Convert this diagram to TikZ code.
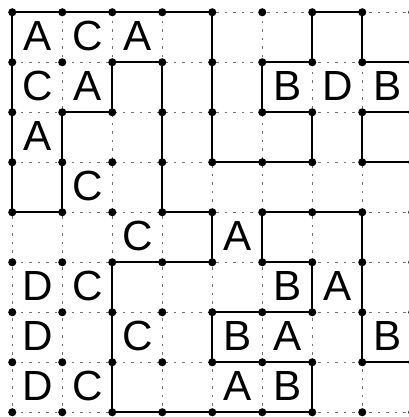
\documentclass[tikz,border=0pt]{standalone}
\usepackage{fontspec}
\setmainfont{Liberation Sans}

\begin{document}
\begin{tikzpicture}[x=1cm, y=-1cm, line join=round, line cap=round, font=\fontsize{24}{28}\selectfont]
	\useasboundingbox (-0.245, -0.245) rectangle (7.935, 8.095);
	\foreach \k in {0,...,8} {
		\draw[black!55, line width=0.5pt, line cap=butt, dash pattern=on 0.05cm off 0.12cm] (0, \k) -- (8, \k);
		\draw[black!55, line width=0.5pt, line cap=butt, dash pattern=on 0.05cm off 0.12cm] (\k, 0) -- (\k, 8);
	}
	\draw[line width=1.4pt] (0, 0) -- (4, 0) -- (4, 3) -- (6, 3) -- (6, 2) -- (5, 2) -- (5, 1) -- (6, 1) -- (6, 0) -- (7, 0) -- (7, 1) -- (8, 1);
	\draw[line width=1.4pt] (0, 0) -- (0, 4) -- (1, 4) -- (1, 2) -- (2, 2) -- (2, 1) -- (3, 1) -- (3, 4) -- (4, 4) -- (4, 5) -- (2, 5) -- (2, 8) -- (6, 8) -- (6, 7) -- (4, 7) -- (4, 6) -- (6, 6) -- (6, 5) -- (5, 5) -- (5, 4) -- (7, 4) -- (7, 7) -- (8, 7);
	\draw[line width=1.4pt] (8, 2) -- (7, 2) -- (7, 3) -- (8, 3);
	\foreach \x in {0,...,8}
		\foreach \y in {0,...,8}
			\fill[black] (\x, \y) circle (2.3pt);
	\foreach \x/\y/\l in {0/0/A, 1/0/C, 2/0/A, 0/1/C, 1/1/A, 5/1/B, 6/1/D, 7/1/B, 0/2/A, 1/3/C, 2/4/C, 4/4/A, 0/5/D, 1/5/C, 5/5/B, 6/5/A, 0/6/D, 2/6/C, 4/6/B, 5/6/A, 7/6/B, 0/7/D, 1/7/C, 4/7/A, 5/7/B}
		\node (c\x\y) at (\x + 0.5, \y + 0.47) {\l};
\end{tikzpicture}
\end{document}
